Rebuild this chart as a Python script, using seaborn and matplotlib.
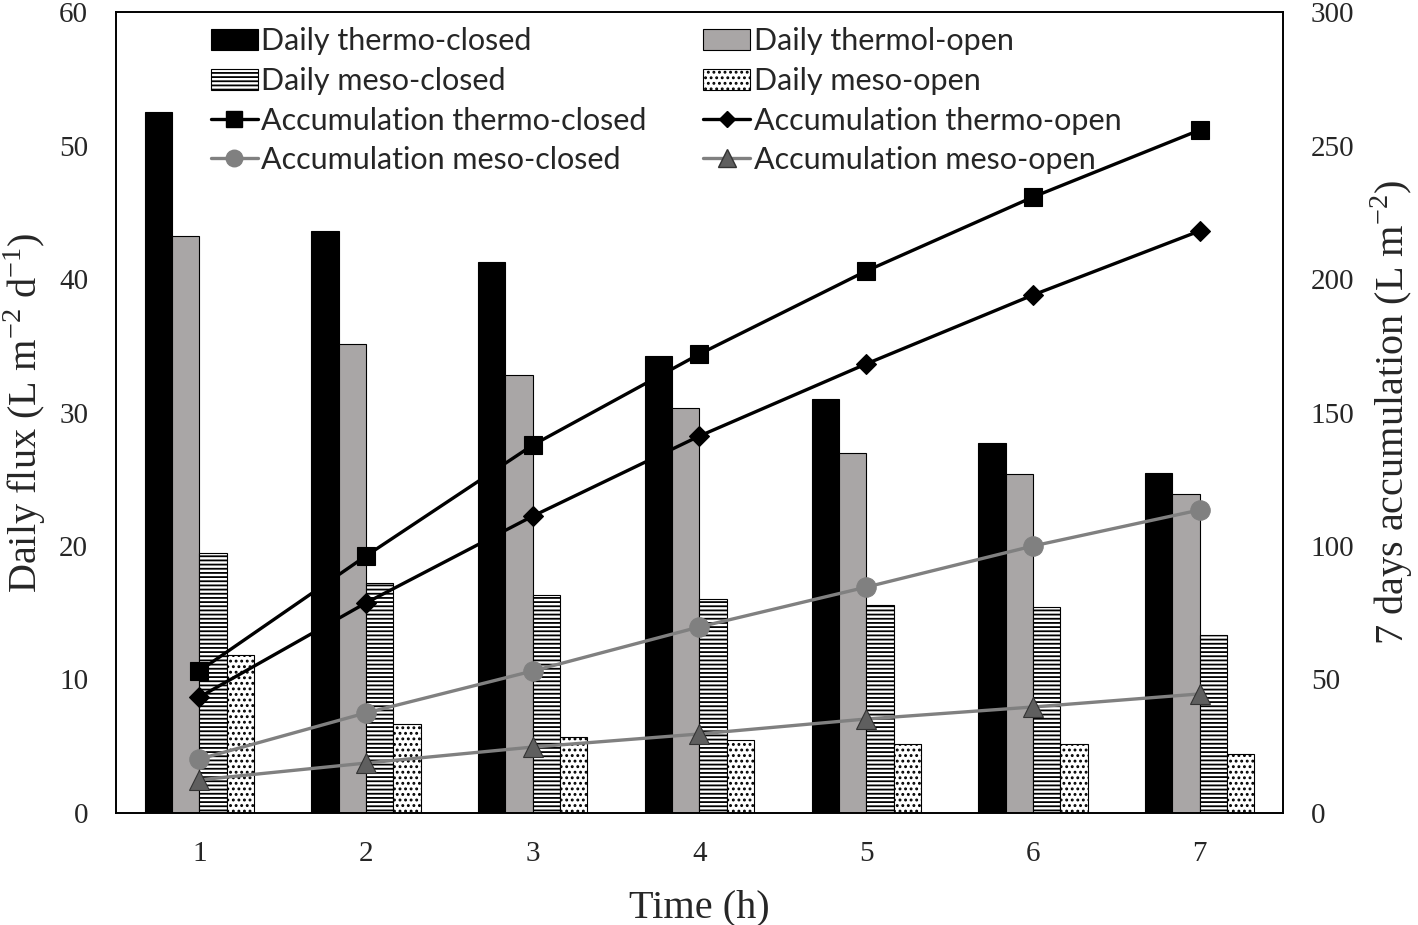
# Daily flux bars with 7-day accumulation lines on a twin axis

import numpy as np
import pandas as pd
import matplotlib as mpl
from matplotlib import pyplot as plt
from matplotlib.patches import Patch
from matplotlib.lines import Line2D
import seaborn as sns

days = ['1', '2', '3', '4', '5', '6', '7']

# daily flux (L m-2 d-1)
daily_thermo_closed = [52.5, 43.6, 41.3, 34.2, 31.0, 27.7, 25.5]
daily_thermo_open = [43.2, 35.1, 32.8, 30.3, 27.0, 25.4, 23.9]
daily_meso_closed = [19.5, 17.2, 16.3, 16.0, 15.6, 15.4, 13.3]
daily_meso_open = [11.8, 6.7, 5.7, 5.5, 5.2, 5.2, 4.4]

# accumulation (L m-2)
acc_thermo_closed = [53.2, 96.3, 137.8, 171.9, 203.0, 230.7, 255.8]
acc_thermo_open = [43.4, 78.7, 111.2, 141.2, 168.2, 194.0, 218.0]
acc_meso_closed = [20.2, 37.5, 53.2, 69.7, 84.6, 100.0, 113.5]
acc_meso_open = [12.4, 18.7, 24.7, 29.6, 35.2, 39.7, 44.6]

bar_names = ['Daily thermo-closed', 'Daily thermol-open', 'Daily meso-closed', 'Daily meso-open']
line_names = ['Accumulation thermo-closed', 'Accumulation thermo-open',
              'Accumulation meso-closed', 'Accumulation meso-open']

sns.set_style('white')
plt.rcParams['font.family'] = ['Liberation Serif', 'DejaVu Serif']
plt.rcParams['hatch.linewidth'] = 1.3
plt.rcParams['axes.unicode_minus'] = False

df = pd.DataFrame({
    'day': days * 4,
    'flux': daily_thermo_closed + daily_thermo_open + daily_meso_closed + daily_meso_open,
    'series': np.repeat(bar_names, len(days)),
})

fig = plt.figure(figsize=(14.18, 9.25), dpi=100)
ax = fig.add_axes([0.0818, 0.1211, 0.823, 0.8659])

bar_colors = ['black', '#a9a6a6', 'white', 'white']
hatches = [None, None, '----', '...']
sns.barplot(data=df, x='day', y='flux', hue='series', hue_order=bar_names,
            palette=bar_colors, width=0.655, ax=ax, legend=False,
            edgecolor='black', linewidth=0.8, saturation=1)
for cont, h in zip(ax.containers, hatches):
    for p in cont:
        if h:
            p.set_hatch(h)

ax.set_ylim(0, 60)
ax.set_xlim(-0.5, 6.5)
ax.set_yticks(range(0, 61, 10))
ax.set_xlabel('Time (h)', fontsize=29, labelpad=16)
ax.set_ylabel('Daily flux (L m$^{\\mathregular{-2}}$ d$^{\\mathregular{-1}}$)', fontsize=29, labelpad=8)
ax.tick_params(axis='both', length=0, labelsize=21, pad=20)

ax2 = ax.twinx()
xi = np.arange(len(days))
line_styles = [
    (acc_thermo_closed, 'black', 's', 'black', 13),
    (acc_thermo_open, 'black', 'D', 'black', 10),
    (acc_meso_closed, '#808080', 'o', '#808080', 14),
    (acc_meso_open, '#808080', '^', '#5f5f5f', 15),
]
for vals, c, m, mc, ms in line_styles:
    sns.lineplot(x=xi, y=vals, ax=ax2, color=c, linewidth=2.4, marker=m,
                 markersize=ms, markerfacecolor=mc, markeredgecolor=mc if m != '^' else '#333333',
                 markeredgewidth=0.8)
ax2.set_ylim(0, 300)
ax2.set_xlim(-0.5, 6.5)
ax2.set_yticks(range(0, 301, 50))
ax2.set_ylabel('7 days accumulation (L m$^{\\mathregular{-2}}$)', fontsize=29, labelpad=10)
ax2.tick_params(axis='y', length=0, labelsize=21, pad=20)

for a in (ax, ax2):
    for s in a.spines.values():
        s.set_visible(True)
        s.set_color('black')
        s.set_linewidth(1.2)

# legend, two columns
bar_handles = [Patch(facecolor=c, edgecolor='black', hatch=h, linewidth=0.8)
               for c, h in zip(bar_colors, hatches)]
line_handles = [Line2D([], [], color=c, linewidth=2.4, marker=m, markersize=ms * 0.85,
                       markerfacecolor=mc, markeredgecolor=mc if m != '^' else '#333333')
                for _, c, m, mc, ms in line_styles]

leg_font = {'family': ['Lato', 'DejaVu Sans'], 'size': 22}
col1_h = [bar_handles[0], bar_handles[2], line_handles[0], line_handles[2]]
col1_l = [bar_names[0], bar_names[2], line_names[0], line_names[2]]
col2_h = [bar_handles[1], bar_handles[3], line_handles[1], line_handles[3]]
col2_l = [bar_names[1], bar_names[3], line_names[1], line_names[3]]

leg_kw = dict(prop=leg_font, frameon=False, loc='upper left', handlelength=1.55,
              handletextpad=0.1, labelspacing=0.38, borderaxespad=0.1)
leg1 = ax2.legend(col1_h, col1_l, bbox_to_anchor=(0.068, 1.0), **leg_kw)
ax2.add_artist(leg1)
ax2.legend(col2_h, col2_l, bbox_to_anchor=(0.49, 1.0), **leg_kw)

fig.savefig('out.png', dpi=100)
